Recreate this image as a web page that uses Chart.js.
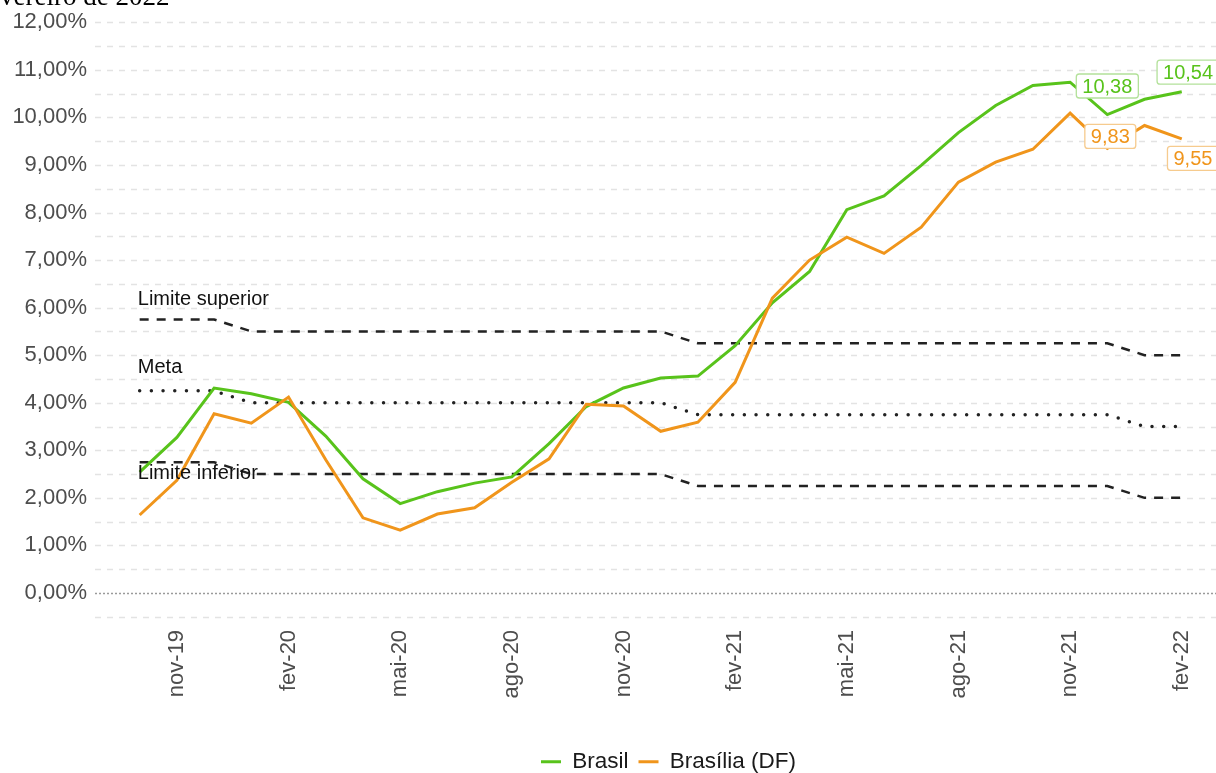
<!DOCTYPE html>
<html>
<head>
<meta charset="UTF-8">
<title>IPCA 12 meses - Brasil x Brasília</title>
<script src="https://cdn.jsdelivr.net/npm/chart.js@4.4.0/dist/chart.umd.min.js"></script>
<style>
  body { margin: 0; background: #fff; overflow: hidden; }
  #wrap { position: relative; width: 1216px; height: 773px; overflow: hidden; }
  #titulo { position: absolute; left: -21px; top: -19px; z-index: 2;
            font: 27px "Liberation Serif", "Times New Roman", serif; color: #000; white-space: nowrap; }
  canvas { position: absolute; left: 0; top: 0; }
</style>
</head>
<body>
<div id="wrap">
  <div id="titulo">fevereiro de 2022</div>
  <canvas id="canvas" width="1216" height="783"></canvas>
</div>
<script>
// meses (out-19 a fev-22)
const meses = ['out-19','nov-19','dez-19','jan-20','fev-20','mar-20','abr-20','mai-20','jun-20','jul-20',
  'ago-20','set-20','out-20','nov-20','dez-20','jan-21','fev-21','mar-21','abr-21','mai-21','jun-21',
  'jul-21','ago-21','set-21','out-21','nov-21','dez-21','jan-22','fev-22'];

// IPCA acumulado 12 meses (%)
const brasil = [2.54,3.27,4.31,4.19,4.01,3.30,2.40,1.88,2.13,2.31,2.44,3.14,3.92,4.31,4.52,4.56,5.20,
  6.10,6.76,8.06,8.35,8.99,9.68,10.25,10.67,10.74,10.06,10.38,10.54];
const brasilia = [1.64,2.37,3.77,3.57,4.12,2.80,1.58,1.32,1.66,1.79,2.33,2.82,3.97,3.93,3.40,3.59,4.43,
  6.20,7.00,7.48,7.14,7.69,8.64,9.06,9.33,10.09,9.35,9.83,9.55];

// metas e limites
const limSup = [5.75,5.75,5.75, 5.5,5.5,5.5,5.5,5.5,5.5,5.5,5.5,5.5,5.5,5.5,5.5,
  5.25,5.25,5.25,5.25,5.25,5.25,5.25,5.25,5.25,5.25,5.25,5.25, 5.0,5.0];
const meta = [4.25,4.25,4.25, 4,4,4,4,4,4,4,4,4,4,4,4,
  3.75,3.75,3.75,3.75,3.75,3.75,3.75,3.75,3.75,3.75,3.75,3.75, 3.5,3.5];
const limInf = [2.75,2.75,2.75, 2.5,2.5,2.5,2.5,2.5,2.5,2.5,2.5,2.5,2.5,2.5,2.5,
  2.25,2.25,2.25,2.25,2.25,2.25,2.25,2.25,2.25,2.25,2.25,2.25, 2.0,2.0];

// eixos
const xTickIdx = [1,4,7,10,13,16,19,22,25,28];
const yTicks = [];
for (let v = -0.5; v <= 12; v += 0.5) yTicks.push(v);

const verde = '#58c31b';
const laranja = '#f0951b';

// textos e rótulos
const notas = [
  { texto: 'Limite superior', x: -0.05, y: 6.05 },
  { texto: 'Meta', x: -0.05, y: 4.62 },
  { texto: 'Limite inferior', x: -0.05, y: 2.40 }
];
const rotulos = [
  { serie: brasil, i: 27, x: 26.0, y: 10.66, cor: verde, borda: '#b3e19a' },
  { serie: brasil, i: 28, x: 28.17, y: 10.95, cor: verde, borda: '#b3e19a' },
  { serie: brasilia, i: 27, x: 26.08, y: 9.60, cor: laranja, borda: '#f6cb8e' },
  { serie: brasilia, i: 28, x: 28.3, y: 9.14, cor: laranja, borda: '#f6cb8e' }
];

const pts = arr => arr.map((v, i) => ({ x: i, y: v }));
const fmt = v => v.toFixed(2).replace('.', ',');

Chart.defaults.font.family = '"Liberation Sans", Arial, sans-serif';

// linhas de grade tracejadas
const grade = {
  id: 'grade',
  beforeDatasetsDraw(chart) {
    const { ctx, chartArea: { left, right }, scales: { y } } = chart;
    ctx.save();
    y.ticks.forEach(t => {
      const py = Math.round(y.getPixelForValue(t.value)) + 0.5;
      ctx.beginPath();
      if (t.value === 0) {
        ctx.strokeStyle = '#9a9a9a'; ctx.setLineDash([2, 2]); ctx.lineWidth = 1.5;
      } else {
        ctx.strokeStyle = '#e3e3e3'; ctx.setLineDash([6, 6]); ctx.lineWidth = 1.5;
      }
      ctx.moveTo(left, py); ctx.lineTo(right, py); ctx.stroke();
    });
    ctx.restore();
  }
};

// textos das linhas de referência e rótulos dos últimos valores
const anotacoes = {
  id: 'anotacoes',
  afterDatasetsDraw(chart) {
    const { ctx, scales: { x, y } } = chart;
    ctx.save();
    ctx.font = '20px "Liberation Sans", Arial, sans-serif';
    ctx.fillStyle = '#111';
    ctx.textAlign = 'left';
    ctx.textBaseline = 'alphabetic';
    notas.forEach(n => ctx.fillText(n.texto, x.getPixelForValue(n.x), y.getPixelForValue(n.y)));

    ctx.textAlign = 'center';
    ctx.textBaseline = 'middle';
    rotulos.forEach(r => {
      const txt = fmt(r.serie[r.i]);
      const cx = x.getPixelForValue(r.x), cy = y.getPixelForValue(r.y);
      const w = ctx.measureText(txt).width + 12, h = 24;
      ctx.beginPath();
      ctx.roundRect(cx - w / 2, cy - h / 2, w, h, 3);
      ctx.fillStyle = '#fff';
      ctx.fill();
      ctx.lineWidth = 1.3;
      ctx.strokeStyle = r.borda;
      ctx.stroke();
      ctx.fillStyle = r.cor;
      ctx.fillText(txt, cx, cy + 1);
    });
    ctx.restore();
  }
};

// legenda um pouco deslocada para a direita, como no original
const legendaDesloc = {
  id: 'legendaDesloc',
  afterLayout(chart) {
    chart.legend.left += 13;
    chart.legend.right += 13;
  }
};

const ref = { pointRadius: 0, borderColor: '#222', fill: false, order: 2 };

new Chart(document.getElementById('canvas').getContext('2d'), {
  type: 'line',
  data: {
    datasets: [
      { label: 'Brasil', data: pts(brasil), borderColor: verde, backgroundColor: verde,
        borderWidth: 3, pointRadius: 0, order: 1 },
      { label: 'Brasília (DF)', data: pts(brasilia), borderColor: laranja, backgroundColor: laranja,
        borderWidth: 3, pointRadius: 0, order: 0 },
      Object.assign({ label: 'Limite superior', data: pts(limSup), borderWidth: 2.5, borderDash: [9, 8] }, ref),
      Object.assign({ label: 'Meta', data: pts(meta), borderWidth: 3.5, borderDash: [0, 11.7],
        borderCapStyle: 'round' }, ref),
      Object.assign({ label: 'Limite inferior', data: pts(limInf), borderWidth: 2.5, borderDash: [9, 8] }, ref)
    ]
  },
  options: {
    responsive: false,
    animation: false,
    layout: { padding: 0 },
    plugins: {
      tooltip: { enabled: false },
      legend: {
        position: 'bottom',
        fullSize: false,
        labels: {
          usePointStyle: true,
          pointStyle: 'line',
          pointStyleWidth: 20,
          padding: 10,
          color: '#1a1a1a',
          font: { size: 22.5 },
          filter: item => item.datasetIndex < 2,
          sort: (a, b) => a.datasetIndex - b.datasetIndex
        }
      }
    },
    scales: {
      x: {
        type: 'linear',
        min: -1.2,
        max: 28.92,
        grid: { display: false, drawTicks: false },
        border: { display: false },
        afterBuildTicks: s => { s.ticks = xTickIdx.map(v => ({ value: v })); },
        afterFit: s => { s.height = 116.6; },
        ticks: {
          autoSkip: false,
          minRotation: 90,
          maxRotation: 90,
          padding: 6,
          color: '#4d4d4d',
          font: { size: 22 },
          callback: v => meses[v]
        }
      },
      y: {
        min: -0.65,
        max: 12.3,
        grid: { display: false, drawTicks: false },
        border: { display: false },
        afterBuildTicks: s => { s.ticks = yTicks.map(v => ({ value: v })); },
        afterFit: s => { s.width = 95; s.paddingTop = 8; s.paddingBottom = 0; },
        ticks: {
          autoSkip: false,
          padding: 8,
          color: '#4d4d4d',
          font: { size: 22 },
          callback: v => Number.isInteger(v) ? fmt(v) + '%' : ''
        }
      }
    }
  },
  plugins: [grade, anotacoes, legendaDesloc]
});
</script>
</body>
</html>
